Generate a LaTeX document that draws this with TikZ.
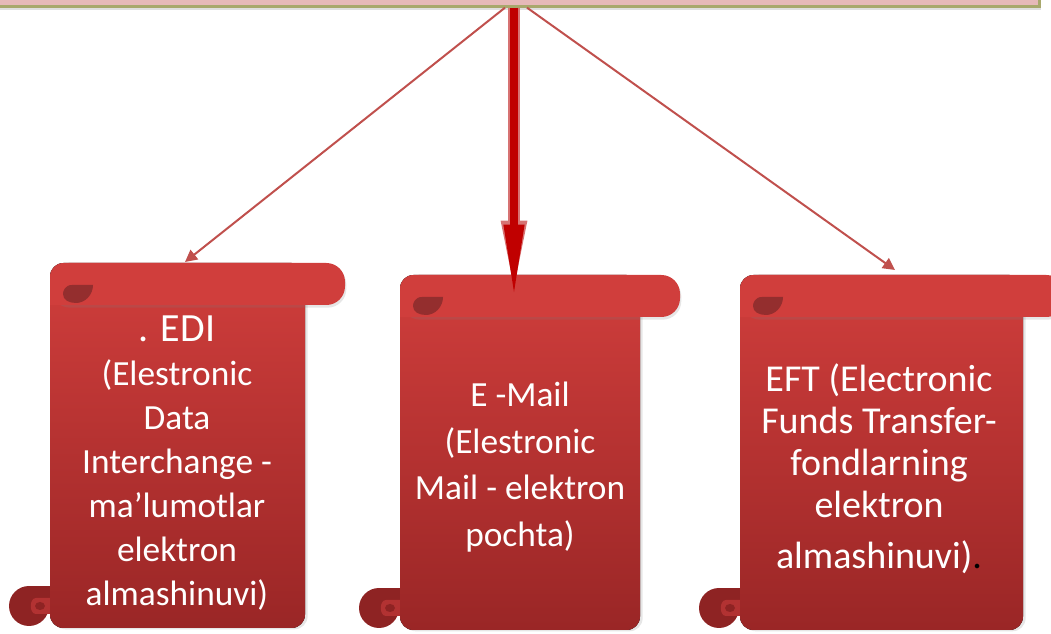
\documentclass[tikz,border=0pt]{standalone}
\usepackage{fontspec}
\setmainfont{Carlito}
\usetikzlibrary{arrows.meta,shadows}

\definecolor{scrolltop}{HTML}{D03E3C}
\definecolor{scrollbot}{HTML}{9A2626}
\definecolor{curldark}{HTML}{8E2323}
\definecolor{curllight}{HTML}{B23232}
\definecolor{linkred}{HTML}{C0504D}
\definecolor{mainred}{HTML}{C00000}
\definecolor{mainedge}{HTML}{D77373}
\definecolor{toppink}{HTML}{E6B9B8}
\definecolor{topolive}{HTML}{A8A86C}

% scroll: #1 left, #2 top, #3 body right, #4 bar right, #5 bottom
\newcommand{\drawscroll}[5]{%
  \fill[curldark] (#1-21,#5-22) ellipse (20 and 20);
  \fill[curldark] (#1-21,#5-42) rectangle (#1+6,#5-22);
  \fill[curllight] (#1+6,#5-30) -- (#1-14,#5-30) .. controls (#1-21,#5-30) and (#1-21,#5-14) .. (#1-14,#5-14) -- (#1+6,#5-14) -- cycle;
  \fill[curldark] (#1-10,#5-22) ellipse (5 and 4);
  \fill[top color=scrolltop, bottom color=scrollbot, rounded corners=10pt,
    drop shadow={opacity=0.2, shadow xshift=2pt, shadow yshift=-1pt}] (#1,#2) rectangle (#3,#5);
  \fill[scrolltop, rounded corners=14pt,
    drop shadow={opacity=0.2, shadow xshift=1pt, shadow yshift=-2pt}] (#1,#2) rectangle (#4,#2+42);
  \fill[scrolltop] (#1,#2+20) rectangle (#1+30,#2+42);
  \fill[curldark!95] (#1+43,#2+22) -- (#1+22,#2+22) .. controls (#1+15,#2+22) and (#1+13,#2+28) .. (#1+13,#2+31)
    .. controls (#1+13,#2+37) and (#1+19,#2+40) .. (#1+26,#2+40)
    .. controls (#1+35,#2+40) and (#1+43,#2+32) .. cycle;
}

\begin{document}
\begin{tikzpicture}[x=0.75pt, y=-0.75pt,
    scrolltext/.style={text=white, align=center, font=\fontsize{26.5}{33}\selectfont},
    link/.style={linkred, line width=1.5pt, -{Triangle[length=9pt,width=9pt]}},
    mainlink/.style={mainred, line width=6pt, -{Triangle[length=55pt,width=14pt]},
      preaction={draw=mainedge, line width=9pt, -{Triangle[length=58pt,width=17pt]}}},
    topbox/.style={rectangle, fill=toppink, draw=topolive, line width=2pt,
      minimum width=800pt, minimum height=35pt, inner sep=0pt,
      drop shadow={opacity=0.25, shadow xshift=1pt, shadow yshift=-3pt}}]
  \useasboundingbox (0,0) rectangle (1051,634);
  \clip (0,0) rectangle (1051,634);

  \node[topbox] (top) at (506,-17) {};

  \drawscroll{50}{263}{305}{345}{628}
  \drawscroll{400}{275}{640}{680}{630}
  \drawscroll{740}{275}{1023}{1065}{630}

  \node[scrolltext] (edi) at (177,463) {{\fontsize{30}{33}\selectfont . EDI}\\(Elestronic\\Data\\Interchange -\\ma’lumotlar\\elektron\\almashinuvi)};
  \node[scrolltext, font=\fontsize{26.5}{35}\selectfont] (email) at (520,467) {E -Mail\\(Elestronic\\Mail - elektron\\pochta)};
  \node[scrolltext, font=\fontsize{28.5}{31.5}\selectfont] (eft) at (879,469) {EFT (Electronic\\Funds Transfer-\\fondlarning\\elektron\\[7pt]almashinuvi)\textcolor{black}{.}};

  \coordinate (edi top) at (185,262);
  \coordinate (email top) at (514,298);
  \coordinate (eft top) at (895,270);

  \draw[link] ([xshift=-0.75pt]top.south) -- (edi top);
  \draw[mainlink] ([xshift=6pt]top.south) -- (email top);
  \draw[link] ([xshift=15.75pt]top.south) -- (eft top);
\end{tikzpicture}
\end{document}
